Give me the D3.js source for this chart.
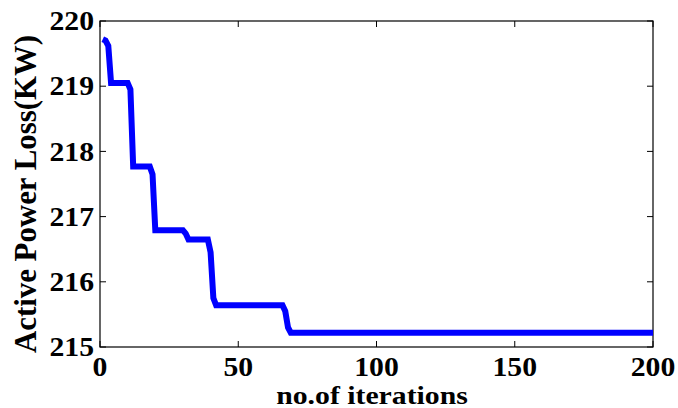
<!DOCTYPE html>
<html>
<head>
<meta charset="utf-8">
<script src="https://cdn.jsdelivr.net/npm/d3@7"></script>
<style>
	body { margin: 0; background: #fff; }
	.chart text { font-family: "Liberation Serif", "Times New Roman", serif; font-weight: bold; fill: #000; }
</style>
</head>
<body>
<div class="chart"></div>
<script>
// DATA
var iterations = [1, 2, 3, 4, 10, 11, 12, 18, 19, 20, 30, 31, 32, 39, 40, 41, 42, 66, 67, 68, 69, 200];
var powerLoss = [219.72, 219.70, 219.62, 219.05, 219.05, 218.95, 217.77, 217.77, 217.65, 216.79,
	216.79, 216.74, 216.65, 216.65, 216.45, 215.75, 215.64, 215.64, 215.55, 215.30, 215.22, 215.22];
var xTicks = [0, 50, 100, 150, 200];
var yTicks = [215, 216, 217, 218, 219, 220];
var xLabel = "no.of iterations";
var yLabel = "Active Power Loss(KW)";

// LAYOUT
var width = 678, height = 408;
var margin = { top: 21, right: 25, bottom: 61, left: 100 };
var stretch = 1.1; // the glyphs in the picture are a bit wider than plain Times

var svg = d3.select(".chart")
	.append("svg")
	.attr("width", width)
	.attr("height", height);

var x = d3.scaleLinear()
	.domain([0, 200])
	.range([margin.left, width - margin.right]);

var y = d3.scaleLinear()
	.domain([215, 220])
	.range([height - margin.bottom, margin.top]);

// box + inward ticks on all four sides
var tickLen = 6;
svg.append("rect")
	.attr("x", x(0))
	.attr("y", y(220))
	.attr("width", x(200) - x(0))
	.attr("height", y(215) - y(220))
	.attr("fill", "none")
	.attr("stroke", "#000")
	.attr("stroke-width", 1.2);

var ticks = svg.append("g").attr("stroke", "#000").attr("stroke-width", 1);
xTicks.forEach(function(t) {
	ticks.append("line").attr("x1", x(t)).attr("x2", x(t))
		.attr("y1", y(215)).attr("y2", y(215) - tickLen);
	ticks.append("line").attr("x1", x(t)).attr("x2", x(t))
		.attr("y1", y(220)).attr("y2", y(220) + tickLen);
});
yTicks.forEach(function(t) {
	ticks.append("line").attr("y1", y(t)).attr("y2", y(t))
		.attr("x1", x(0)).attr("x2", x(0) + tickLen);
	ticks.append("line").attr("y1", y(t)).attr("y2", y(t))
		.attr("x1", x(200)).attr("x2", x(200) - tickLen);
});

// tick labels
svg.append("g")
	.selectAll("text")
	.data(xTicks)
	.enter().append("text")
		.attr("transform", function(d) { return "translate(" + x(d) + "," + 375.5 + ") scale(" + stretch + ",1)"; })
		.attr("text-anchor", "middle")
		.style("font-size", "27px")
		.text(function(d) { return d; });

svg.append("g")
	.selectAll("text")
	.data(yTicks)
	.enter().append("text")
		.attr("transform", function(d) { return "translate(" + (x(0) - 6) + "," + y(d) + ") scale(" + stretch + ",1)"; })
		.attr("text-anchor", "end")
		.attr("dy", "0.34em")
		.style("font-size", "27px")
		.text(function(d) { return d; });

// axis titles
svg.append("text")
	.attr("transform", "translate(372,404) scale(1.19,1)")
	.attr("text-anchor", "middle")
	.style("font-size", "25px")
	.text(xLabel);

svg.append("text")
	.attr("transform", "translate(36,194) scale(1.2,1) rotate(-90)")
	.attr("text-anchor", "middle")
	.attr("textLength", 318)
	.attr("lengthAdjust", "spacingAndGlyphs")
	.style("font-size", "27px")
	.text(yLabel);

// convergence curve
var line = d3.line()
	.x(function(d, i) { return x(iterations[i]); })
	.y(function(d) { return y(d); });

svg.append("path")
	.datum(powerLoss)
	.attr("d", line)
	.attr("fill", "none")
	.attr("stroke", "#0000ff")
	.attr("stroke-width", 6)
	.attr("stroke-linejoin", "miter");
</script>
</body>
</html>
